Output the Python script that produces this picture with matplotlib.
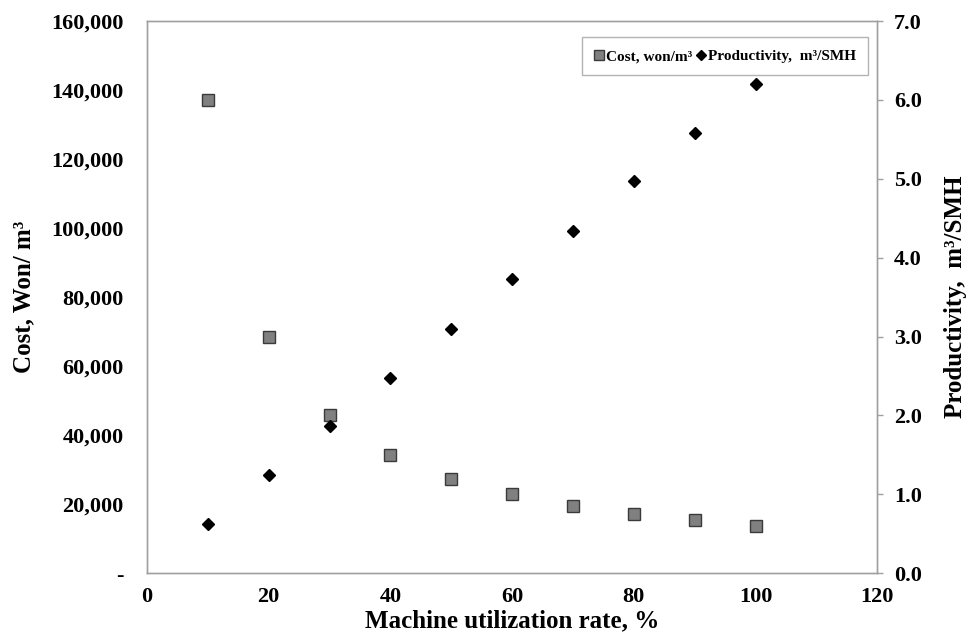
import numpy as np
import matplotlib
matplotlib.use("Agg")
import matplotlib.pyplot as plt

# ---------------------------------------------------------------------------
# Data
# ---------------------------------------------------------------------------
utilization = [10, 20, 30, 40, 50, 60, 70, 80, 90, 100]
cost = [137000, 68500, 45700, 34200, 27300, 22800, 19500, 17100, 15300, 13700]
productivity = [0.62, 1.25, 1.86, 2.48, 3.10, 3.73, 4.34, 4.97, 5.58, 6.20]

cost_ticks = np.arange(0, 160001, 20000)
cost_labels = ["-"] + [f"{v:,}" for v in cost_ticks[1:]]
prod_ticks = np.arange(0, 7.01, 1.0)
x_ticks = np.arange(0, 121, 20)

plt.rcParams["font.family"] = ["Liberation Serif", "DejaVu Serif"]
plt.rcParams["font.weight"] = "bold"

FRAME = "#a0a0a0"
TICK_FS = 16
LABEL_FS = 18

fig = plt.figure(figsize=(9.71, 6.41), dpi=100)
ax = fig.add_axes([0.1514, 0.106, 0.752, 0.861])
ax2 = ax.twinx()

h1, = ax.plot(utilization, cost, ls="none", marker="s", ms=8.5,
              mfc="#808080", mec="#3a3a3a", mew=1.0, label="Cost, won/m³")
h2, = ax2.plot(utilization, productivity, ls="none", marker="D", ms=6.5,
               mfc="black", mec="black", label="Productivity,  m³/SMH")

ax.set_xlim(0, 120)
ax.set_ylim(0, 160000)
ax2.set_ylim(0, 7.0)

ax.set_xticks(x_ticks)
ax.set_xticklabels([str(v) for v in x_ticks], fontsize=TICK_FS, fontweight="bold")
ax.set_yticks(cost_ticks)
ax.set_yticklabels(cost_labels, fontsize=TICK_FS, fontweight="bold")
ax2.set_yticks(prod_ticks)
ax2.set_yticklabels([f"{v:.1f}" for v in prod_ticks], fontsize=TICK_FS, fontweight="bold")

ax.tick_params(axis="x", length=0, pad=10)
ax.tick_params(axis="y", length=0, pad=17)
ax2.tick_params(axis="y", length=4, width=1, color=FRAME, pad=8)

for a in (ax, ax2):
    for s in a.spines.values():
        s.set_color(FRAME)
        s.set_linewidth(1.0)

ax.set_xlabel("Machine utilization rate, %", fontsize=LABEL_FS, fontweight="bold", labelpad=2)
ax.set_ylabel("Cost, Won/ m³", fontsize=LABEL_FS, fontweight="bold", labelpad=11)
ax2.set_ylabel("Productivity,  m³/SMH", fontsize=LABEL_FS, fontweight="bold", labelpad=16)

leg = ax2.legend([h1, h2], [h1.get_label(), h2.get_label()], ncol=2,
                 loc="upper right", bbox_to_anchor=(0.9877, 0.971), borderaxespad=0,
                 prop={"size": 11, "weight": "bold"}, frameon=True, fancybox=False,
                 handlelength=0.6, handletextpad=0.15, columnspacing=0.3,
                 borderpad=0.8, markerscale=0.85)
leg.get_frame().set_edgecolor(FRAME)
leg.get_frame().set_linewidth(1.0)

fig.savefig("out.png", dpi=100)
